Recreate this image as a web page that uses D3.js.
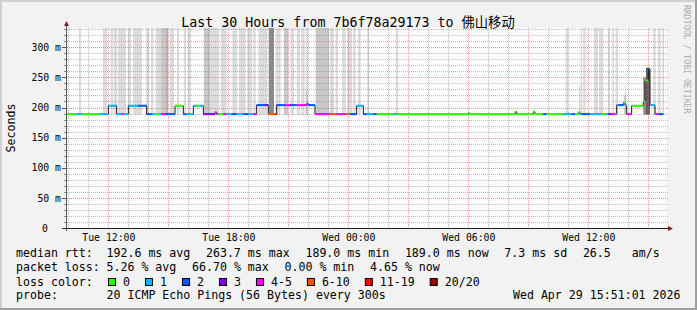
<!DOCTYPE html>
<html>
<head>
<meta charset="utf-8">
<script src="https://cdn.jsdelivr.net/npm/d3@7"></script>
<style>
  body { margin: 0; background: #f2f2f2; }
  svg { display: block; }
  text { font-family: "DejaVu Sans Mono", "Noto Sans CJK SC", monospace; fill: #000; white-space: pre; }
</style>
</head>
<body>
<svg id="chart" width="697" height="310"></svg>
<script>
// ---- data ----
const title      = 'Last 30 Hours from 7b6f78a29173 to 佛山移动';
const yLabel     = 'Seconds';
const timeSpan   = ['28 09:56', '29 15:56'];
const yTicks     = [0, 50, 100, 150, 200, 250, 300];
const yMax       = 332;

// median rtt (ms), step changes every 5 minutes
const medianSteps = [
  ['28 09:55', 189], ['28 12:00', 203], ['28 12:25', 189], ['28 13:00', 203],
  ['28 13:55', 189], ['28 15:20', 203], ['28 15:45', 189], ['28 16:15', 203],
  ['28 16:45', 189], ['28 17:20', 192], ['28 17:25', 189], ['28 19:25', 204],
  ['28 20:00', 189], ['28 20:25', 204], ['28 21:55', 206], ['28 22:00', 204],
  ['28 22:20', 189], ['29 00:25', 203], ['29 00:45', 189], ['29 06:00', 191],
  ['29 06:05', 189], ['29 08:20', 193], ['29 08:25', 189], ['29 09:15', 193],
  ['29 09:20', 189], ['29 11:30', 192], ['29 11:35', 189], ['29 13:25', 204],
  ['29 13:45', 208], ['29 13:50', 204], ['29 13:55', 189], ['29 14:10', 203],
  ['29 14:45', 210], ['29 14:50', 245], ['29 15:00', 264], ['29 15:05', 204],
  ['29 15:20', 189]
];
const medianEnd = '29 15:45';

// lost pings out of 20
const lossSteps = [
  ['28 09:55', 0], ['28 10:25', 1], ['28 10:40', 0], ['28 11:35', 1], ['28 12:40', 4],
  ['28 12:45', 1], ['28 13:30', 2], ['28 14:10', 1], ['28 14:20', 0], ['28 14:35', 1],
  ['28 14:40', 4], ['28 14:50', 2], ['28 15:20', 0], ['28 15:45', 2], ['28 15:55', 1],
  ['28 16:25', 0], ['28 16:35', 1], ['28 16:45', 3], ['28 17:20', 4], ['28 17:30', 0],
  ['28 17:45', 4], ['28 17:55', 1], ['28 18:10', 2], ['28 18:25', 1], ['28 18:45', 2],
  ['28 19:00', 1], ['28 19:15', 4], ['28 19:25', 2], ['28 19:50', 3], ['28 20:00', 8],
  ['28 20:20', 15], ['28 20:25', 2], ['28 20:50', 4], ['28 21:05', 3], ['28 21:10', 2],
  ['28 21:25', 4], ['28 21:55', 2], ['28 22:20', 4], ['28 23:05', 8], ['28 23:25', 4],
  ['28 23:50', 8], ['29 00:05', 2], ['29 00:25', 1], ['29 00:45', 2], ['29 00:55', 1],
  ['29 01:15', 2], ['29 01:25', 0], ['29 02:15', 1], ['29 02:25', 0], ['29 09:45', 2],
  ['29 09:55', 0], ['29 10:45', 1], ['29 11:10', 2], ['29 11:20', 0], ['29 11:35', 1],
  ['29 11:40', 2], ['29 12:05', 1], ['29 12:40', 0], ['29 12:50', 1], ['29 13:00', 3],
  ['29 13:10', 4], ['29 13:20', 1], ['29 13:30', 2], ['29 13:45', 0], ['29 13:50', 1],
  ['29 13:55', 4], ['29 14:10', 0], ['29 15:00', 2], ['29 15:05', 1], ['29 15:20', 4],
  ['29 15:30', 2]
];

// smoke: from, to, top rtt (ms), density level
const smokeBands = [
  ['28 10:32', '28 10:38', 400, 0], ['28 11:44', '28 11:56', 400, 0], ['28 12:07', '28 12:15', 400, 0],
  ['28 12:17', '28 12:26', 400, 0], ['28 12:29', '28 12:53', 400, 0], ['28 12:59', '28 13:08', 400, 0],
  ['28 13:14', '28 13:41', 400, 0], ['28 13:53', '28 14:02', 400, 0], ['28 14:08', '28 14:15', 400, 0],
  ['28 14:22', '28 14:38', 400, 0], ['28 14:38', '28 14:52', 400, 1], ['28 14:52', '28 14:59', 400, 2],
  ['28 15:05', '28 15:17', 400, 0], ['28 15:26', '28 15:32', 400, 0], ['28 15:47', '28 15:53', 400, 0],
  ['28 15:59', '28 16:08', 400, 0], ['28 16:47', '28 17:05', 400, 1], ['28 17:05', '28 17:17', 400, 0],
  ['28 17:17', '28 17:32', 400, 0], ['28 17:37', '28 17:55', 400, 0], ['28 18:12', '28 18:27', 400, 0],
  ['28 18:32', '28 18:52', 400, 0], ['28 18:57', '28 19:12', 400, 0], ['28 19:15', '28 19:22', 400, 0],
  ['28 19:30', '28 19:57', 400, 0], ['28 20:02', '28 20:17', 400, 3], ['28 20:22', '28 20:37', 400, 0],
  ['28 20:47', '28 20:59', 400, 1], ['28 21:07', '28 21:17', 400, 0], ['28 21:25', '28 21:35', 400, 0],
  ['28 21:39', '28 21:49', 400, 0], ['28 21:52', '28 21:59', 400, 0], ['28 21:54', '28 21:57', 228, 2],
  ['28 22:22', '28 23:02', 400, 1], ['28 23:05', '28 23:17', 400, 0], ['28 23:09', '28 23:12', 222, 1],
  ['28 23:22', '28 23:29', 400, 0], ['28 23:42', '28 23:52', 400, 0], ['28 23:57', '29 00:12', 400, 0],
  ['29 00:15', '29 00:22', 400, 0], ['29 00:29', '29 00:37', 400, 0], ['29 00:57', '29 01:02', 400, 0],
  ['29 02:22', '29 02:30', 400, 0], ['29 10:52', '29 10:59', 400, 0], ['29 11:32', '29 11:37', 236, 0],
  ['29 11:37', '29 11:42', 400, 0], ['29 11:45', '29 11:52', 400, 0], ['29 12:17', '29 12:29', 400, 0],
  ['29 12:32', '29 12:45', 400, 0], ['29 13:00', '29 13:05', 400, 0], ['29 13:12', '29 13:17', 400, 0],
  ['29 13:22', '29 13:29', 400, 0], ['29 13:49', '29 13:52', 236, 0], ['29 13:47', '29 13:53', 220, 1],
  ['29 14:45', '29 14:53', 250, 3], ['29 14:53', '29 15:05', 266, 4], ['29 15:15', '29 15:22', 400, 0],
  ['29 15:29', '29 15:37', 400, 0], ['29 15:42', '29 15:47', 400, 0]
];

const rttStats    = ['192.6 ms avg', '263.7 ms max', '189.0 ms min', '189.0 ms now', '7.3 ms sd', '26.5   am/s'];
const lossStats   = ['5.26 % avg', '66.70 % max', '0.00 % min', '4.65 % now'];
const lossLabels  = ['0', '1', '2', '3', '4-5', '6-10', '11-19', '20/20'];
const lossBreaks  = [1, 2, 3, 4, 6, 11, 20];
const lossColors  = ['#26ff00', '#00b8ff', '#0059ff', '#7e00ff', '#ff00ff', '#ff5500', '#ff0000', '#a10000'];
const probeText   = '20 ICMP Echo Pings (56 Bytes) every 300s';
const stampText   = 'Wed Apr 29 15:51:01 2026';
const watermark   = 'RRDTOOL / TOBI OETIKER';

// ---- chart ----
const W = 697, H = 310;
const plot = { left: 67, right: 667, top: 28, bottom: 228 };
const parseT = d3.timeParse('%Y-%m-%d %H:%M');
const T = s => parseT('2026-04-' + s);

const x = d3.scaleTime().domain(timeSpan.map(T)).range([plot.left, plot.right]);
const y = d3.scaleLinear().domain([0, yMax]).range([plot.bottom, plot.top]);
const lossColor = d3.scaleThreshold().domain(lossBreaks).range(lossColors);
const smokeGrey = d3.scaleOrdinal().domain([0, 1, 2, 3, 4]).range(['#dcdcdc', '#c8c8c8', '#b2b2b2', '#8a8a8a', '#5e5e5e']);

const svg = d3.select('#chart');

// background + 3d frame
svg.append('rect').attr('width', W).attr('height', H).attr('fill', '#f2f2f2');
svg.append('path').attr('d', `M1,${H} V1 H${W}`).attr('fill', 'none').attr('stroke', '#cfcfcf').attr('stroke-width', 2);
svg.append('path').attr('d', `M0,${H - 1} H${W - 1} V0`).attr('fill', 'none').attr('stroke', '#9e9e9e').attr('stroke-width', 2);

// canvas
svg.append('rect')
  .attr('x', plot.left).attr('y', plot.top)
  .attr('width', plot.right - plot.left).attr('height', plot.bottom - plot.top)
  .attr('fill', '#fff');

svg.append('clipPath').attr('id', 'clip').append('rect')
  .attr('x', plot.left).attr('y', plot.top)
  .attr('width', plot.right - plot.left).attr('height', plot.bottom - plot.top);

// smoke
svg.append('g').attr('clip-path', 'url(#clip)')
  .selectAll('rect').data(smokeBands).enter().append('rect')
  .attr('x', d => x(T(d[0])))
  .attr('width', d => x(T(d[1])) - x(T(d[0])))
  .attr('y', d => y(Math.min(d[2], yMax + 5)))
  .attr('height', d => y(188) - y(Math.min(d[2], yMax + 5)))
  .attr('fill', d => smokeGrey(d[3]));

// grid
const px = v => Math.floor(v) + 0.5;
const grid = svg.append('g');
const minorY = y.ticks(33).filter(v => v % 50 !== 0);
const hours  = x.ticks(d3.timeHour.every(1));
const minorX = hours.filter(t => t.getHours() % 3 !== 0);
const majorX = hours.filter(t => t.getHours() % 3 === 0);

grid.selectAll('.hmin').data(minorY).enter().append('line')
  .attr('x1', plot.left - 2).attr('x2', plot.right + 2)
  .attr('y1', d => px(y(d) + 0.5)).attr('y2', d => px(y(d) + 0.5))
  .attr('stroke', 'rgba(143,143,143,0.6)').attr('stroke-dasharray', '1,1');
grid.selectAll('.vmin').data(minorX).enter().append('line')
  .attr('x1', d => px(x(d))).attr('x2', d => px(x(d)))
  .attr('y1', plot.top).attr('y2', plot.bottom + 2)
  .attr('stroke', 'rgba(143,143,143,0.6)').attr('stroke-dasharray', '1,1');
grid.selectAll('.hmaj').data(yTicks.filter(v => v > 0)).enter().append('line')
  .attr('x1', plot.left - 2).attr('x2', plot.right + 2)
  .attr('y1', d => px(y(d) + 0.5)).attr('y2', d => px(y(d) + 0.5))
  .attr('stroke', 'rgba(222,79,79,0.6)').attr('stroke-dasharray', '1,1');
grid.selectAll('.vmaj').data(majorX).enter().append('line')
  .attr('x1', d => px(x(d))).attr('x2', d => px(x(d)))
  .attr('y1', plot.top).attr('y2', plot.bottom + 2)
  .attr('stroke', 'rgba(222,79,79,0.6)').attr('stroke-dasharray', '1,1');

// small ticks left of y axis
grid.selectAll('.ytk').data(y.ticks(33)).enter().append('line')
  .attr('x1', d => yTicks.includes(d) ? plot.left - 5 : plot.left - 3).attr('x2', plot.left)
  .attr('y1', d => px(y(d) + 0.5)).attr('y2', d => px(y(d) + 0.5))
  .attr('stroke', d => yTicks.includes(d) ? '#555' : '#888');

// median line (black step) + loss-coloured band
const mPts = medianSteps.map(d => ({ t: T(d[0]), v: d[1] }));
const lPts = lossSteps.map(d => ({ t: T(d[0]), l: d[1] }));
const endT = T(medianEnd);
const bis = d3.bisector(d => d.t).right;
const at = (arr, t) => arr[bis(arr, t) - 1];

svg.append('path')
  .datum(mPts.concat([{ t: endT, v: mPts[mPts.length - 1].v }]))
  .attr('d', d3.line().x(d => x(d.t)).y(d => y(d.v)).curve(d3.curveStepAfter))
  .attr('fill', 'none').attr('stroke', '#1a1a1a').attr('stroke-width', 1);

const cuts = Array.from(new Set(mPts.concat(lPts).map(d => +d.t))).sort((a, b) => a - b);
const pieces = cuts.map((c, i) => {
  const t0 = new Date(c), t1 = i < cuts.length - 1 ? new Date(cuts[i + 1]) : endT;
  return { t0, t1, v: at(mPts, t0).v, l: at(lPts, t0).l };
});
svg.append('g').selectAll('rect').data(pieces).enter().append('rect')
  .attr('x', d => x(d.t0))
  .attr('width', d => x(d.t1) - x(d.t0))
  .attr('y', d => y(d.v) - 1)
  .attr('height', 2)
  .attr('fill', d => lossColor(d.l));

// axes lines + arrows
svg.append('line').attr('x1', plot.left - 4).attr('x2', plot.right + 3)
  .attr('y1', plot.bottom + 0.5).attr('y2', plot.bottom + 0.5).attr('stroke', '#1f1f1f');
svg.append('line').attr('x1', plot.left - 0.5).attr('x2', plot.left - 0.5)
  .attr('y1', plot.bottom + 3).attr('y2', plot.top - 4).attr('stroke', '#5a5a5a');
svg.append('path').attr('d', `M${plot.left - 3},26 L${plot.left + 2},26 L${plot.left - 0.5},21 Z`).attr('fill', '#801f1f');
svg.append('path').attr('d', `M${plot.right + 1},226 L${plot.right + 1},231 L${plot.right + 6},228.5 Z`).attr('fill', '#801f1f');

// axis labels via d3 axes
const fmtX = d3.timeFormat('%a %H:%M');
const xAxis = svg.append('g').attr('transform', `translate(0,${plot.bottom})`)
  .call(d3.axisBottom(x).ticks(d3.timeHour.every(6)).tickFormat(fmtX).tickSize(0).tickPadding(6));
const yAxis = svg.append('g').attr('transform', `translate(${plot.left},0)`)
  .call(d3.axisLeft(y).tickValues(yTicks).tickFormat(d => d === 0 ? '0' : d + ' m').tickSize(0).tickPadding(6));
[xAxis, yAxis].forEach(a => {
  a.select('.domain').remove();
  a.attr('font-family', null).attr('font-size', null);
  a.selectAll('text').style('font-size', '9.8px').attr('fill', '#000');
});
yAxis.selectAll('text').attr('dx', d => d === 0 ? -13 : 0);

// title, y label, watermark
svg.append('text').attr('x', 348).attr('y', 27).attr('text-anchor', 'middle')
  .style('font-size', '13.3px').text(title);
svg.append('text').attr('transform', 'translate(15,128) rotate(-90)').attr('text-anchor', 'middle')
  .style('font-size', '11.6px').text(yLabel);
svg.append('text').attr('transform', 'translate(683.5,5) rotate(90)')
  .style('font-size', '8.2px').style('fill', '#ababab').text(watermark);

// legend: items flow left to right with a fixed gap
const lg = svg.append('g').style('font-size', '11.6px');
const rows = [257.3, 271.3, 285.5, 299.3];
const gap = 15.7, col = 106.5;

function flow(items, rowY) {
  let cx = col;
  items.forEach(s => {
    const t = lg.append('text').attr('x', cx).attr('y', rowY).text(s);
    cx += t.node().getComputedTextLength() + gap;
  });
}

lg.append('text').attr('x', 16).attr('y', rows[0]).text('median rtt:');
flow(rttStats, rows[0]);
lg.append('text').attr('x', 16).attr('y', rows[1]).text('packet loss:');
flow(lossStats, rows[1]);
lg.append('text').attr('x', 16).attr('y', rows[2]).text('loss color:');

let cx = 108;
lossLabels.forEach((s, i) => {
  lg.append('rect').attr('x', cx + 0.5).attr('y', 278.5).attr('width', 7).attr('height', 7)
    .attr('fill', lossColors[i]).attr('stroke', '#000');
  const t = lg.append('text').attr('x', cx + 15).attr('y', rows[2]).text(s);
  cx += 15 + t.node().getComputedTextLength() + 15;
});

lg.append('text').attr('x', 16).attr('y', rows[3]).text('probe:');
lg.append('text').attr('x', col).attr('y', rows[3]).text(probeText);
lg.append('text').attr('x', 680.5).attr('y', rows[3]).attr('text-anchor', 'end').text(stampText);
</script>
</body>
</html>
